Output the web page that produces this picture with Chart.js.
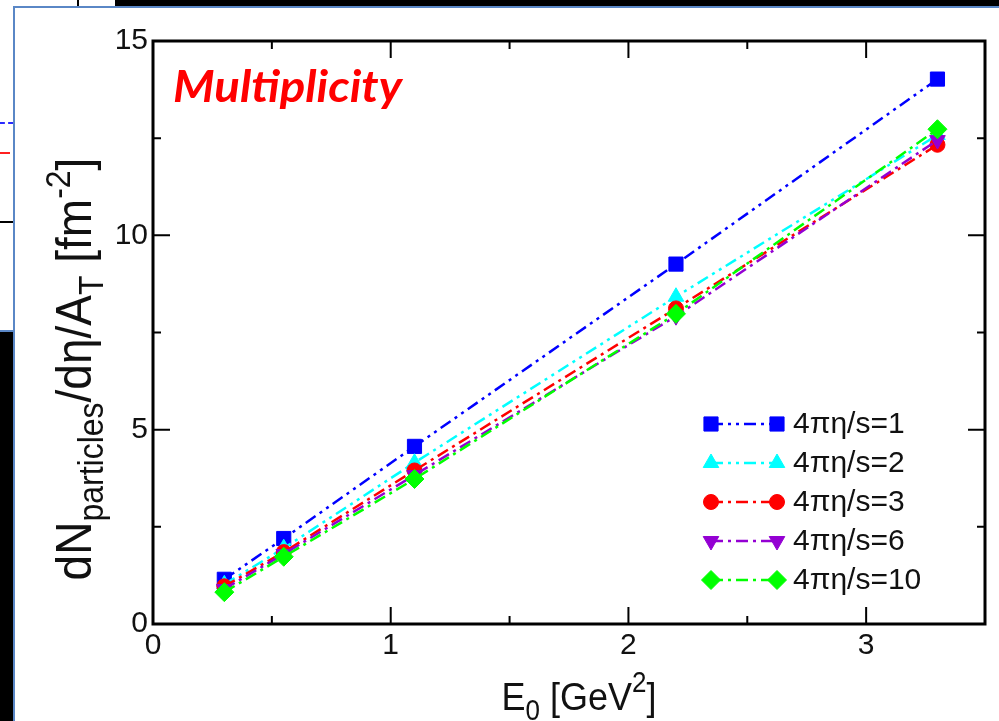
<!DOCTYPE html>
<html>
<head>
<meta charset="utf-8">
<script src="https://cdn.jsdelivr.net/npm/chart.js@4.4.1/dist/chart.umd.min.js"></script>
<style>
  html, body { margin: 0; padding: 0; background: #fff; }
  body { width: 999px; height: 721px; position: relative; overflow: hidden; }
  .blk { position: absolute; background: #000; }
  .edge { position: absolute; background: #5a87c6; }
  #c { position: absolute; left: 0; top: 0; }
</style>
</head>
<body>
<!-- slide pieces around the figure -->
<div class="blk" style="left:115px;top:0;width:884px;height:6px"></div>
<div class="blk" style="left:77px;top:0;width:2px;height:6px"></div>
<div style="position:absolute;left:0;top:122px;width:13px;border-top:2px dashed #2a2aff"></div>
<div style="position:absolute;left:0;top:152px;width:10px;height:2px;background:#ff2020"></div>
<div class="blk" style="left:0;top:221px;width:14px;height:2px"></div>
<div class="edge" style="left:0;top:330px;width:14px;height:2px"></div>
<div class="blk" style="left:0;top:332px;width:13px;height:389px"></div>
<div class="edge" style="left:13px;top:6px;width:986px;height:2px"></div>
<div class="edge" style="left:13px;top:6px;width:2px;height:715px"></div>

<canvas id="c" width="999" height="721"></canvas>

<script>
// energy density E0 [GeV^2]
const energies = [0.3, 0.55, 1.1, 2.2, 3.3];

// dN/deta/A_T for each 4 pi eta/s
const visc1  = [1.15, 2.20, 4.57, 9.26, 14.02];
const visc2  = [1.02, 1.95, 4.15, 8.42, 12.58];
const visc3  = [0.97, 1.85, 3.95, 8.12, 12.33];
const visc6  = [0.90, 1.80, 3.83, 7.92, 12.45];
const visc10 = [0.82, 1.73, 3.73, 7.98, 12.73];

const seriesLabels = ['4\u03C0\u03B7/s=1', '4\u03C0\u03B7/s=2', '4\u03C0\u03B7/s=3', '4\u03C0\u03B7/s=6', '4\u03C0\u03B7/s=10'];

const FONT = '"Liberation Sans", Arial, sans-serif';
const DASH2 = [12, 5, 3, 5, 3, 5];   // dash-dot-dot
const DASH1 = [12, 5, 3, 5];         // dash-dot

function series(label, values, color, style, radius, rotation, dash, order) {
    return {
        label: label,
        data: values.map((v, i) => ({ x: energies[i], y: v })),
        borderColor: color,
        backgroundColor: color,
        pointBackgroundColor: color,
        pointBorderColor: color,
        pointBorderWidth: 1,
        pointStyle: style,
        pointRadius: radius,
        pointRotation: rotation,
        borderWidth: 2.5,
        borderDash: dash,
        fill: false,
        tension: 0,
        order: order
    };
}

const datasets = [
    series(seriesLabels[0], visc1,  '#0000ff', 'rect',     10,  0,   DASH2, 5),
    series(seriesLabels[1], visc2,  '#00ffff', 'triangle', 9,   0,   DASH2, 4),
    series(seriesLabels[2], visc3,  '#ff0000', 'circle',   7.5, 0,   DASH1, 3),
    series(seriesLabels[3], visc6,  '#9400d3', 'triangle', 9,   180, DASH1, 2),
    series(seriesLabels[4], visc10, '#00ff00', 'rectRot',  9.5, 0,   DASH1, 1)
];

// draws text made of pieces with sub/superscripts, centered on x
function drawRich(ctx, parts) {
    let total = 0;
    parts.forEach(p => {
        ctx.font = p.size + 'px ' + FONT;
        p.w = ctx.measureText(p.text).width;
        total += p.w;
    });
    let x = -total / 2;
    parts.forEach(p => {
        ctx.font = p.size + 'px ' + FONT;
        ctx.fillText(p.text, x, p.dy || 0);
        x += p.w;
    });
}

function marker(ctx, ds, x, y) {
    ctx.save();
    ctx.fillStyle = ds.pointBackgroundColor;
    ctx.strokeStyle = ds.pointBorderColor;
    ctx.lineWidth = 1;
    ctx.setLineDash([]);
    Chart.helpers.drawPoint(ctx, {
        pointStyle: ds.pointStyle,
        radius: ds.pointRadius,
        rotation: ds.pointRotation,
        borderWidth: 1
    }, x, y);
    ctx.restore();
}

const framePlugin = {
    id: 'frame',
    afterDraw(chart) {
        const ctx = chart.ctx;
        const a = chart.chartArea;
        const xs = chart.scales.x, ys = chart.scales.y;
        ctx.save();
        ctx.strokeStyle = '#000';
        ctx.lineWidth = 3;
        ctx.strokeRect(a.left, a.top, a.right - a.left, a.bottom - a.top);
        ctx.lineWidth = 2;
        ctx.beginPath();
        xs.ticks.forEach(t => {
            const px = xs.getPixelForValue(t.value);
            const len = Number.isInteger(t.value) ? 17 : 8;
            if (t.value <= 0 || t.value >= 3.5) return;
            ctx.moveTo(px, a.bottom); ctx.lineTo(px, a.bottom - len);
            ctx.moveTo(px, a.top); ctx.lineTo(px, a.top + len);
        });
        ys.ticks.forEach(t => {
            const py = ys.getPixelForValue(t.value);
            const len = t.value % 5 === 0 ? 17 : 8;
            if (t.value <= 0 || t.value >= 15) return;
            ctx.moveTo(a.left, py); ctx.lineTo(a.left + len, py);
            ctx.moveTo(a.right, py); ctx.lineTo(a.right - len, py);
        });
        ctx.stroke();

        // axis titles
        ctx.fillStyle = '#111';
        ctx.textBaseline = 'alphabetic';
        ctx.textAlign = 'left';
        ctx.save();
        ctx.translate(579, 710);
        ctx.scale(1, 1.1);
        drawRich(ctx, [
            { text: 'E', size: 36 },
            { text: '0', size: 26, dy: 9 },
            { text: ' [GeV', size: 36 },
            { text: '2', size: 26, dy: -16 },
            { text: ']', size: 36 }
        ]);
        ctx.restore();

        ctx.save();
        ctx.translate(91, 369);
        ctx.rotate(-Math.PI / 2);
        ctx.scale(1, 1.08);
        drawRich(ctx, [
            { text: 'dN', size: 46 },
            { text: 'particles', size: 32, dy: 11 },
            { text: '/d\u03B7/A', size: 46 },
            { text: 'T', size: 32, dy: 11 },
            { text: ' [fm', size: 46 },
            { text: '-2', size: 32, dy: -19 },
            { text: ']', size: 46 }
        ]);
        ctx.restore();

        // panel label, stretched to the width it has in the figure
        ctx.save();
        ctx.fillStyle = '#ff0000';
        ctx.font = 'italic bold 43px Lato, "Open Sans", sans-serif';
        const w = ctx.measureText('Multiplicity').width;
        ctx.translate(173, 102);
        ctx.scale(229 / w, 1);
        ctx.fillText('Multiplicity', 0, 0);
        ctx.restore();

        // legend: line with a marker at each end
        chart.data.datasets.forEach((ds, i) => {
            const y = 424 + i * 39;
            ctx.strokeStyle = ds.borderColor;
            ctx.lineWidth = 2.5;
            ctx.setLineDash(ds.borderDash);
            ctx.beginPath();
            ctx.moveTo(711, y);
            ctx.lineTo(777, y);
            ctx.stroke();
            ctx.setLineDash([]);
            marker(ctx, ds, 711, y);
            marker(ctx, ds, 777, y);
            ctx.fillStyle = '#111';
            ctx.font = '30px ' + FONT;
            ctx.textBaseline = 'middle';
            ctx.fillText(ds.label, 793, y + 1);
        });
        ctx.restore();
    }
};

new Chart(document.getElementById('c'), {
    type: 'line',
    data: { datasets: datasets },
    options: {
        responsive: false,
        devicePixelRatio: 1,
        animation: false,
        layout: { padding: { left: 0, top: 41, right: 14, bottom: 0 } },
        plugins: { legend: { display: false }, tooltip: { enabled: false } },
        scales: {
            x: {
                type: 'linear',
                min: 0,
                max: 3.5,
                grid: { display: false, drawTicks: false },
                border: { display: false },
                ticks: {
                    stepSize: 0.5,
                    autoSkip: false,
                    maxRotation: 0,
                    padding: 4,
                    color: '#111',
                    font: { family: FONT, size: 30 },
                    callback: v => Number.isInteger(v) ? String(v) : ''
                },
                afterFit: s => { s.height = 97; }
            },
            y: {
                type: 'linear',
                min: 0,
                max: 15,
                grid: { display: false, drawTicks: false },
                border: { display: false },
                ticks: {
                    stepSize: 2.5,
                    autoSkip: false,
                    padding: 5,
                    color: '#111',
                    font: { family: FONT, size: 30 },
                    callback: v => v % 5 === 0 ? String(v) : ''
                },
                afterFit: s => { s.width = 153; }
            }
        }
    },
    plugins: [framePlugin]
});
</script>
</body>
</html>
